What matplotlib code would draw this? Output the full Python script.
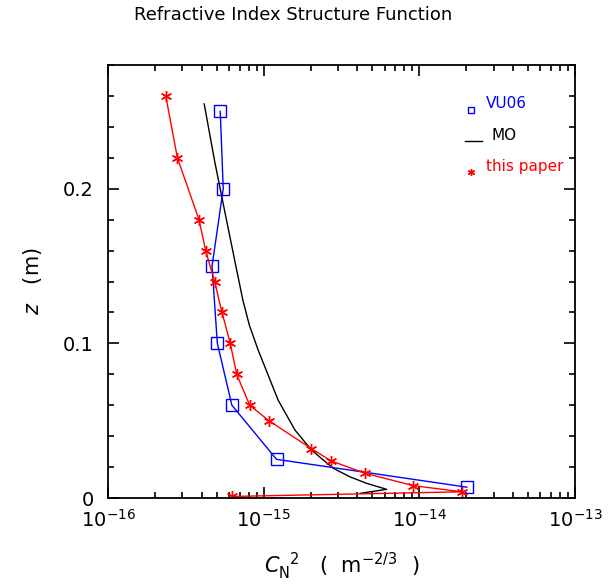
import numpy as np
import matplotlib
matplotlib.use("Agg")
import matplotlib.pyplot as plt
from matplotlib.ticker import LogLocator, MultipleLocator, NullFormatter

# VU06 (blue squares)
vu06_cn2 = [5.26e-16, 5.50e-16, 4.66e-16, 5.04e-16, 6.25e-16, 1.21e-15, 2.02e-14]
vu06_z = [0.25, 0.20, 0.15, 0.10, 0.06, 0.025, 0.007]

# MO (black line)
mo_cn2 = [4.15e-16, 4.86e-16, 5.64e-16, 6.55e-16, 7.36e-16, 8.1e-16, 9.23e-16,
          1.24e-15, 1.59e-15, 2.03e-15, 2.42e-15, 2.80e-15, 3.58e-15, 4.58e-15,
          6.17e-15, 4.17e-15]
mo_z = [0.2548, 0.217, 0.1847, 0.1525, 0.1277, 0.1116, 0.0955,
        0.0632, 0.0439, 0.031, 0.0245, 0.0192, 0.0137, 0.0095,
        0.0056, 0.003]

# this paper (red asterisks)
paper_cn2 = [2.35e-16, 2.79e-16, 3.84e-16, 4.24e-16, 4.84e-16, 5.40e-16, 6.10e-16,
             6.71e-16, 8.13e-16, 1.08e-15, 2.02e-15, 2.71e-15, 4.48e-15, 9.14e-15,
             1.88e-14, 6.28e-16]
paper_z = [0.26, 0.22, 0.18, 0.16, 0.14, 0.12, 0.10,
           0.08, 0.06, 0.05, 0.032, 0.024, 0.016, 0.008,
           0.004, 0.001]

x_ticks = [1e-16, 1e-15, 1e-14, 1e-13]
x_ticklabels = [r"$10^{-16}$", r"$10^{-15}$", r"$10^{-14}$", r"$10^{-13}$"]
y_ticks = [0, 0.1, 0.2]
y_ticklabels = ["0", "0.1", "0.2"]

BLUE = "#0000ff"
RED = "#ff0000"
ASTER = (6, 2, 0)

fig = plt.figure(figsize=(6.1, 5.84), dpi=100)
ax = fig.add_axes([108 / 610, 86 / 584, 467 / 610, 433 / 584])

ax.plot(mo_cn2, mo_z, color="black", lw=1.0)
ax.plot(vu06_cn2, vu06_z, color=BLUE, lw=1.0, marker="s", ms=8,
        mfc="none", mec=BLUE, mew=1.0)
ax.plot(paper_cn2, paper_z, color=RED, lw=1.0, marker=ASTER, ms=8,
        mec=RED, mew=1.0)

ax.set_xscale("log")
ax.set_xlim(1e-16, 1e-13)
ax.set_ylim(0, 0.28)

ax.set_xticks(x_ticks)
ax.set_xticklabels(x_ticklabels)
ax.xaxis.set_minor_locator(LogLocator(base=10, subs=np.arange(2, 10), numticks=10))
ax.xaxis.set_minor_formatter(NullFormatter())
ax.set_yticks(y_ticks)
ax.set_yticklabels(y_ticklabels)
ax.yaxis.set_minor_locator(MultipleLocator(0.02))

ax.tick_params(which="both", direction="in", top=True, right=True,
               labelsize=14, width=1.2)
ax.tick_params(axis="x", pad=8)
ax.tick_params(axis="y", pad=10)
ax.tick_params(which="major", length=8)
ax.tick_params(which="minor", length=4.5)
for s in ax.spines.values():
    s.set_linewidth(1.3)

ax.set_xlabel(r"$C_{\rm N}^{\ \ 2}$   (  m$^{-2/3}$  )", fontsize=15, labelpad=14)
ax.set_ylabel(r"$z$   (m)", fontsize=15, labelpad=14)
fig.text(293 / 610, 1 - 15 / 584, "Refractive Index Structure Function",
         ha="center", va="center", fontsize=13)

# legend drawn by hand, like the original
def leg_y(py):
    return (498 - py) / 433

ax.plot([0.778], [leg_y(110)], transform=ax.transAxes, marker="s", ms=5,
        mfc="none", mec=BLUE, mew=1.0, ls="none", clip_on=False)
ax.text(0.81, leg_y(103), "VU06", transform=ax.transAxes, color=BLUE,
        fontsize=11, va="center")
ax.plot([0.765, 0.8], [leg_y(141), leg_y(141)], transform=ax.transAxes,
        color="black", lw=1.0)
ax.text(0.822, leg_y(135), "MO", transform=ax.transAxes, color="black",
        fontsize=11, va="center")
ax.plot([0.778], [leg_y(172)], transform=ax.transAxes, marker=ASTER, ms=5,
        mec=RED, mew=1.0, ls="none")
ax.text(0.81, leg_y(167), "this paper", transform=ax.transAxes, color=RED,
        fontsize=11, va="center")

fig.savefig("out.png", dpi=100)
